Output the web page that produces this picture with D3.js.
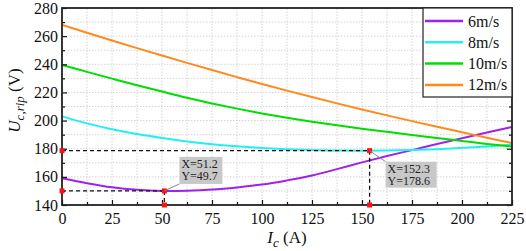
<!DOCTYPE html>
<html>
<head>
<meta charset="utf-8">
<script src="https://cdn.jsdelivr.net/npm/d3@7"></script>
<style>
  body { margin: 0; background: #fff; }
  svg { display: block; }
  svg text { font-family: "Liberation Serif", "Times New Roman", serif !important; }
</style>
</head>
<body>
<svg id="chart" width="526" height="251"></svg>
<script>
// 数据 (读取自图片)
const current = [0, 12.5, 25, 37.5, 50, 62.5, 75, 87.5, 100, 112.5, 125, 137.5, 150, 162.5, 175, 187.5, 200, 212.5, 225];
const v6 = [159, 155.5, 152.6, 150.8, 150, 150.2, 151, 152.5, 154.5, 157.5, 161, 165.5, 170.3, 174.8, 179, 183.3, 187.5, 191.5, 195.5];
const v8 = [203, 198, 193.8, 190.4, 187.6, 185.2, 183.2, 181.7, 180.5, 179.6, 179, 178.7, 178.6, 178.7, 179.1, 179.7, 180.6, 181.6, 183];
const v10 = [239.5, 234.6, 229.8, 225.1, 220.6, 216.2, 212.2, 208.5, 205.1, 202, 199.2, 196.6, 194.2, 192, 189.8, 187.6, 185.5, 183.4, 181.5];
const v12 = [268, 262.4, 256.9, 251.5, 246.2, 241, 235.9, 230.9, 226, 221.3, 216.7, 212.2, 207.9, 203.7, 199.6, 195.6, 191.7, 187.8, 184];
const seriesNames = ["6m/s", "8m/s", "10m/s", "12m/s"];
const seriesColors = ["#a020f0", "#22f0f0", "#00dd00", "#ff8a1a"];
const xTicks = [0, 25, 50, 75, 100, 125, 150, 175, 200, 225];
const yTicks = [140, 160, 180, 200, 220, 240, 260, 280];
// 标注点
const markX = [51.2, 153.8];
const markY = [150, 178.6];
const markText = [["X=51.2", "Y=49.7"], ["X=152.3", "Y=178.6"]];

const svg = d3.select("#chart");
const margin = { top: 8, right: 14, bottom: 46, left: 62 };
const width = 526, height = 251;
const x = d3.scaleLinear().domain([0, 225]).range([margin.left, width - margin.right]);
const y = d3.scaleLinear().domain([140, 280]).range([height - margin.bottom, margin.top]);

// 网格
const grid = svg.append("g").attr("stroke", "#d4d4d4").attr("stroke-width", 1).attr("stroke-dasharray", "1.5,1.5");
grid.selectAll("line.vx")
  .data(d3.range(12.5, 225, 12.5))
  .join("line")
  .attr("x1", d => x(d)).attr("x2", d => x(d))
  .attr("y1", y(140)).attr("y2", y(280));
grid.selectAll("line.hy")
  .data(d3.range(150, 280, 10))
  .join("line")
  .attr("x1", x(0)).attr("x2", x(225))
  .attr("y1", d => y(d)).attr("y2", d => y(d));

// 曲线
const line = d3.line().x((d, i) => x(current[i])).y(d => y(d)).curve(d3.curveCatmullRom);
const allSeries = [v6, v8, v10, v12];
svg.append("g")
  .selectAll("path")
  .data(allSeries)
  .join("path")
  .attr("d", d => line(d))
  .attr("fill", "none")
  .attr("stroke", (d, i) => seriesColors[i])
  .attr("stroke-width", 2);

// 虚线标注
const ann = svg.append("g");
markX.forEach((mx, i) => {
  ann.append("line")
    .attr("x1", x(0)).attr("x2", x(mx))
    .attr("y1", y(markY[i])).attr("y2", y(markY[i]))
    .attr("stroke", "#111").attr("stroke-width", 1.3).attr("stroke-dasharray", "4,3");
  ann.append("line")
    .attr("x1", x(mx)).attr("x2", x(mx))
    .attr("y1", y(markY[i])).attr("y2", y(140))
    .attr("stroke", "#111").attr("stroke-width", 1.3).attr("stroke-dasharray", "4,3");
});

// 轴
function styleAxis(g) {
  g.select(".domain").remove();
  g.attr("font-size", 16);
  g.selectAll("text").attr("fill", "#111").attr("font-size", 16);
  g.selectAll(".tick line").attr("stroke", "#111").attr("stroke-width", 1.2);
}
const axisG = svg.append("g");
axisG.append("g")
  .attr("transform", `translate(0,${y(140)})`)
  .call(d3.axisBottom(x).tickValues(xTicks).tickSize(-5).tickPadding(8))
  .call(styleAxis);
axisG.append("g")
  .attr("transform", `translate(0,${y(140)})`)
  .call(d3.axisBottom(x).tickValues(d3.range(12.5, 225, 25)).tickSize(-3).tickFormat(""))
  .call(styleAxis);
axisG.append("g")
  .attr("transform", `translate(${x(0)},0)`)
  .call(d3.axisLeft(y).tickValues(yTicks).tickSize(-5).tickPadding(4))
  .call(styleAxis);
axisG.append("g")
  .attr("transform", `translate(${x(0)},0)`)
  .call(d3.axisLeft(y).tickValues(d3.range(150, 280, 20)).tickSize(-3).tickFormat(""))
  .call(styleAxis);
axisG.append("g")
  .attr("transform", `translate(${x(225)},0)`)
  .call(d3.axisRight(y).tickValues(yTicks).tickSize(-5).tickFormat(""))
  .call(styleAxis);
axisG.append("g")
  .attr("transform", `translate(${x(225)},0)`)
  .call(d3.axisRight(y).tickValues(d3.range(150, 280, 20)).tickSize(-3).tickFormat(""))
  .call(styleAxis);

svg.append("rect")
  .attr("x", x(0)).attr("y", y(280))
  .attr("width", x(225) - x(0)).attr("height", y(140) - y(280))
  .attr("fill", "none").attr("stroke", "#222").attr("stroke-width", 1.8);

// 红点
const dots = [];
markX.forEach((mx, i) => {
  dots.push([0, markY[i]], [mx, markY[i]], [mx, 140]);
});
svg.append("g")
  .selectAll("rect")
  .data(dots)
  .join("rect")
  .attr("x", d => x(d[0]) - 2.5).attr("y", d => y(d[1]) - 2.5)
  .attr("width", 5).attr("height", 5)
  .attr("fill", "#ff1010");

// 标注框
const boxes = [
  { dx: 15, dy: -34, w: 43, h: 27, cx: 15, cy: -7 },
  { dx: 16, dy: 11, w: 51, h: 26, cx: 16, cy: 11 }
];
markX.forEach((mx, i) => {
  const px = x(mx), py = y(markY[i]), b = boxes[i];
  svg.append("line")
    .attr("x1", px).attr("y1", py)
    .attr("x2", px + b.cx).attr("y2", py + b.cy)
    .attr("stroke", "#888").attr("stroke-width", 1);
  svg.append("rect")
    .attr("x", px + b.dx).attr("y", py + b.dy)
    .attr("width", b.w).attr("height", b.h)
    .attr("fill", "#c8c8c8");
  svg.append("g")
    .selectAll("text")
    .data(markText[i])
    .join("text")
    .attr("x", px + b.dx + 2)
    .attr("y", (d, j) => py + b.dy + 11 + j * 12.5)
    .attr("font-size", 12)
    .attr("fill", "#222")
    .text(d => d);
});

// 图例
const lg = svg.append("g").attr("transform", `translate(${x(225) - 89},${y(280)})`);
lg.append("rect").attr("width", 89).attr("height", 89)
  .attr("fill", "#fff").attr("stroke", "#222").attr("stroke-width", 1.2);
lg.selectAll("g")
  .data(seriesNames)
  .join("g")
  .attr("transform", (d, i) => `translate(0,${13 + i * 21.3})`)
  .call(g => {
    g.append("line").attr("x1", 2).attr("x2", 40)
      .attr("stroke", (d, i) => seriesColors[i]).attr("stroke-width", 2.5);
    g.append("text").attr("x", 45).attr("y", 5.5)
      .attr("font-size", 16).attr("fill", "#111").text(d => d);
  });

// 轴标题
svg.append("text")
  .attr("transform", `translate(20,${(y(140) + y(280)) / 2 - 6}) rotate(-90)`)
  .attr("text-anchor", "middle")
  .attr("font-size", 17)
  .attr("fill", "#111")
  .call(t => {
    t.append("tspan").attr("font-style", "italic").text("U");
    t.append("tspan").attr("font-style", "italic").attr("font-size", 13).attr("dy", 4).text("c,rip");
    t.append("tspan").attr("dy", -4).text(" (V)");
  });
svg.append("text")
  .attr("x", (x(0) + x(225)) / 2)
  .attr("y", 243)
  .attr("text-anchor", "middle")
  .attr("font-size", 17)
  .attr("fill", "#111")
  .call(t => {
    t.append("tspan").attr("font-style", "italic").text("I");
    t.append("tspan").attr("font-style", "italic").attr("font-size", 13).attr("dy", 4).text("c");
    t.append("tspan").attr("dy", -4).text(" (A)");
  });
</script>
</body>
</html>
